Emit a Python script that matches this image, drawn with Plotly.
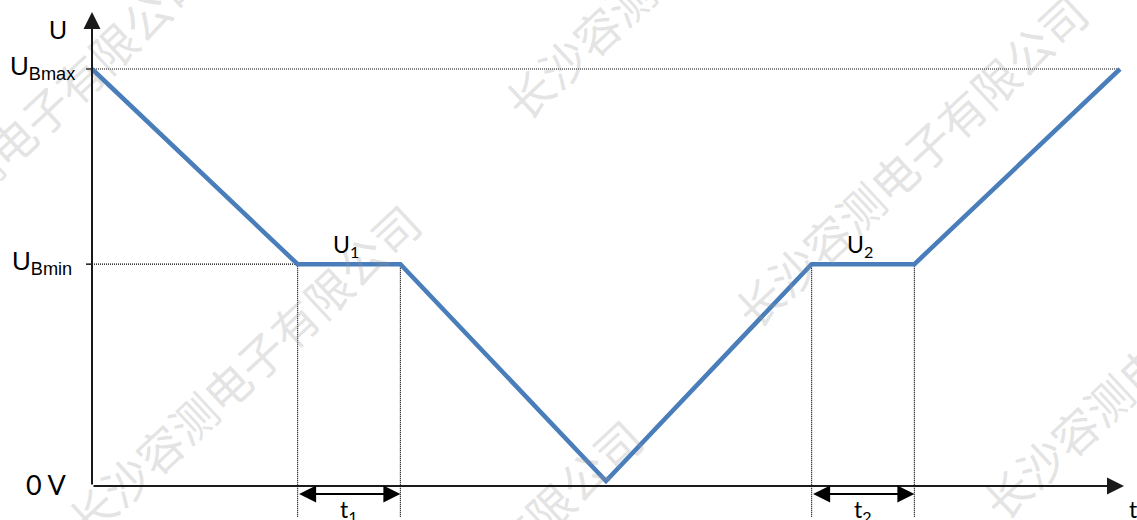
import plotly.graph_objects as go

# --- data ---
t_points = [0, 2, 3, 5, 7, 8, 10]
u_points = [1.0, 0.532, 0.532, 0.012, 0.532, 0.532, 1.0]
U_BMAX = 1.0
U_BMIN = 0.532
t1_span = [2, 3]
t2_span = [7, 8]
plateau_labels = ["U<sub>1</sub>", "U<sub>2</sub>"]
span_labels = ["t<sub>1</sub>", "t<sub>2</sub>"]
level_labels = ["U<sub>Bmax</sub>", "U<sub>Bmin</sub>", "0 V"]
watermark = "长沙容测电子有限公司"

W, H = 1137, 520
X0, Y0 = 92, 486          # pixel position of the origin
PX_X, PX_Y = 102.8, 417   # pixels per unit


def dx(px):
    return (px - X0) / PX_X


def dy(py):
    return (Y0 - py) / PX_Y


BLUE = "#4A7EBB"
INK = "#1a1a1a"
DOT = dict(color="black", width=1.2, dash="1px,1px")

fig = go.Figure()
fig.add_trace(go.Scatter(
    x=t_points, y=u_points, mode="lines",
    line=dict(color=BLUE, width=4.5),
    hoverinfo="skip", showlegend=False
))

shapes = []
# reference levels
shapes.append(dict(type="line", x0=0, x1=t_points[-1], y0=U_BMAX, y1=U_BMAX, line=DOT))
shapes.append(dict(type="line", x0=0, x1=dx(372), y0=U_BMIN, y1=U_BMIN, line=DOT))
# small ticks on the U axis
for lvl in (U_BMAX, U_BMIN):
    shapes.append(dict(type="line", x0=dx(86), x1=0, y0=lvl, y1=lvl,
                       line=dict(color=INK, width=1.5)))
# vertical markers of the plateaus
for span in (t1_span, t2_span):
    for tx in span:
        shapes.append(dict(type="line", x0=tx, x1=tx, y0=U_BMIN, y1=dy(517), line=DOT))
for s in shapes:
    s["layer"] = "below"

ann = []
# watermark
for cx, cy in [(28, 125), (243, 370), (680, -48), (910, 160), (465, 585), (1158, 352)]:
    ann.append(dict(x=cx / W, y=1 - cy / H, xref="paper", yref="paper", text=watermark,
                    xanchor="center", yanchor="middle", showarrow=False, textangle=-43,
                    font=dict(family="Noto Sans CJK SC", size=46, color="rgba(150,150,150,0.27)")))

# axes with arrow heads
for tip in [(0, dy(12)), (dx(1124), 0)]:
    ann.append(dict(x=tip[0], y=tip[1], ax=0, ay=0, xref="x", yref="y", axref="x", ayref="y",
                    text="", showarrow=True, arrowhead=2, arrowsize=1.7, arrowwidth=2,
                    arrowcolor=INK, standoff=0))
# double arrows for t1, t2
for span in (t1_span, t2_span):
    ann.append(dict(x=span[1], y=dy(494), ax=span[0], ay=dy(494), xref="x", yref="y",
                    axref="x", ayref="y", text="", showarrow=True, arrowhead=2,
                    arrowside="end+start", arrowsize=1.7, arrowwidth=2,
                    arrowcolor="black", standoff=0, startstandoff=0))

label_font = dict(family="Liberation Sans, Arial", size=26, color="black")
side_font = dict(family="Lato, Open Sans", size=23, color="black")

ann.append(dict(x=dx(58), y=dy(30), xref="x", yref="y", text="U", showarrow=False,
                font=dict(family="Liberation Sans, Arial", size=25, color="black")))
ann.append(dict(x=dx(77), y=U_BMAX, xref="x", yref="y", text=level_labels[0], showarrow=False,
                xanchor="right", yanchor="middle", yshift=2, font=label_font))
ann.append(dict(x=dx(74), y=U_BMIN, xref="x", yref="y", text=level_labels[1], showarrow=False,
                xanchor="right", yanchor="middle", yshift=2, font=label_font))
ann.append(dict(x=dx(69), y=0, xref="x", yref="y", text=level_labels[2], showarrow=False,
                xanchor="right", yanchor="middle", yshift=2,
                font=dict(family="Lato, Open Sans", size=27, color="black")))

for span, lab in zip((t1_span, t2_span), plateau_labels):
    ann.append(dict(x=(span[0] + span[1]) / 2 - 0.03, y=U_BMIN, xref="x", yref="y", text=lab,
                    showarrow=False, yanchor="bottom", yshift=1, font=side_font))
for span, lab in zip((t1_span, t2_span), span_labels):
    ann.append(dict(x=(span[0] + span[1]) / 2, y=dy(497), xref="x", yref="y", text=lab,
                    showarrow=False, yanchor="top", yshift=4, font=side_font))
ann.append(dict(x=dx(1133), y=dy(497), xref="x", yref="y", text="t", showarrow=False,
                yanchor="top", yshift=4, font=side_font))

fig.update_layout(
    width=W, height=H,
    margin=dict(l=0, r=0, t=0, b=0),
    plot_bgcolor="white", paper_bgcolor="white",
    xaxis=dict(range=[dx(0), dx(W)], visible=False, fixedrange=True),
    yaxis=dict(range=[dy(H), dy(0)], visible=False, fixedrange=True),
    shapes=shapes, annotations=ann, showlegend=False
)

fig.write_html("out.html", config={"displayModeBar": False},
               post_script="document.body.style.margin='0';")
